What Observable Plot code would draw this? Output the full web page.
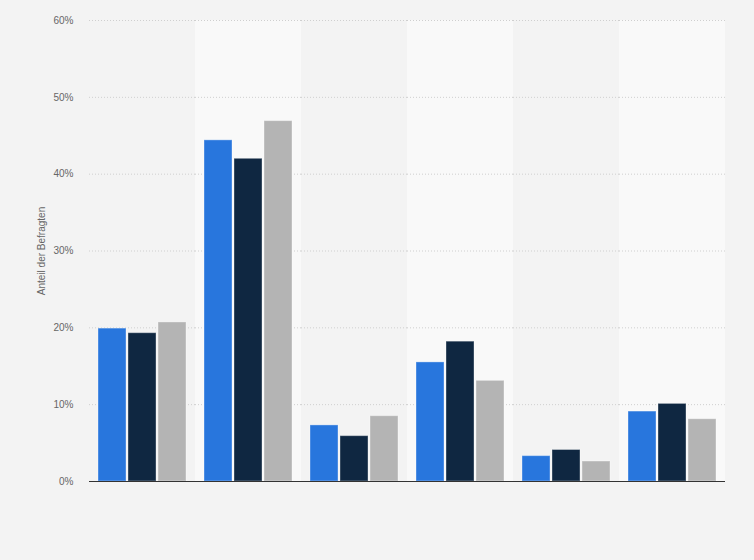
<!DOCTYPE html>
<html>
<head>
<meta charset="utf-8">
<script src="https://cdn.jsdelivr.net/npm/d3@7"></script>
<script src="https://cdn.jsdelivr.net/npm/@observablehq/plot@0.6"></script>
<style>
  html, body { margin: 0; padding: 0; background: #f3f3f3; }
  #chart svg { display: block; }
</style>
</head>
<body>
<div id="chart"></div>
<script>
const categories = ["Kategorie 1", "Kategorie 2", "Kategorie 3", "Kategorie 4", "Kategorie 5", "Kategorie 6"];
const seriesNames = ["Serie A", "Serie B", "Serie C"];
const seriesA = [19.9, 44.4, 7.3, 15.5, 3.3, 9.1];
const seriesB = [19.3, 42.0, 5.9, 18.2, 4.1, 10.1];
const seriesC = [20.7, 46.9, 8.5, 13.1, 2.6, 8.1];
const seriesColors = ["#2876dd", "#0f2741", "#b4b4b4"];
const yTicks = [0, 10, 20, 30, 40, 50, 60];

const allSeries = [seriesA, seriesB, seriesC];
const data = [];
categories.forEach((c, i) => {
  seriesNames.forEach((s, j) => {
    data.push({category: c, series: s, value: allSeries[j][i]});
  });
});
const bands = categories.filter((c, i) => i % 2 === 1).map(c => ({category: c}));

const chart = Plot.plot({
  width: 754,
  height: 560,
  marginTop: 20,
  marginLeft: 88,
  marginRight: 29,
  marginBottom: 79,
  style: {background: "#f3f3f3", fontFamily: "Liberation Sans, Arial, sans-serif", fontSize: "10px", color: "#666"},
  fx: {domain: categories, padding: 0, axis: null},
  x: {domain: seriesNames, paddingInner: 0.082, paddingOuter: 0.28, axis: null},
  y: {domain: [0, 60], ticks: yTicks},
  color: {domain: seriesNames, range: seriesColors},
  marks: [
    Plot.barY(bands, {fx: "category", y1: 0, y2: 60, fill: "#f9f9f9", inset: 0}),
    Plot.gridY(yTicks, {stroke: "#cfcfcf", strokeOpacity: 1, strokeDasharray: "1,2"}),
    Plot.axisY({
      ticks: yTicks,
      tickSize: 0,
      tickPadding: 16,
      tickFormat: d => d + "%",
      label: "Anteil der Befragten",
      labelAnchor: "center",
      labelArrow: "none",
      labelOffset: 52,
      fill: "#666"
    }),
    Plot.barY(data, {
      fx: "category",
      x: "series",
      y: "value",
      fill: "series",
      stroke: "#ffffff",
      strokeOpacity: 0.35,
      strokeWidth: 1,
      inset: 0
    }),
    Plot.ruleY([0], {stroke: "#333", strokeWidth: 1.2})
  ]
});
document.getElementById("chart").appendChild(chart);
</script>
</body>
</html>
